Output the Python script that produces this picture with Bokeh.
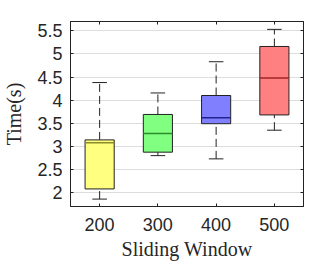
from bokeh.plotting import figure
from bokeh.models import Range1d, FixedTicker, LinearAxis
from bokeh.embed import file_html
from bokeh.resources import INLINE

categories = ["200", "300", "400", "500"]
whisker_low = [1.86, 2.80, 2.73, 3.35]
q1 = [2.08, 2.875, 3.49, 3.68]
median = [3.08, 3.28, 3.62, 4.48]
q3 = [3.14, 3.69, 4.10, 5.16]
whisker_high = [4.38, 4.155, 4.83, 5.53]
fill_colors = ["#ffff80", "#80ff80", "#8080ff", "#ff8080"]
median_colors = ["#8c8c2a", "#2a8c2a", "#22228c", "#a02424"]
y_ticks = [2, 2.5, 3, 3.5, 4, 4.5, 5, 5.5]

xs = list(range(1, len(categories) + 1))

p = figure(width=330, height=265, output_backend="svg", toolbar_location=None,
           x_range=Range1d(0.5, 4.5), y_range=Range1d(1.7, 5.7),
           min_border_left=62, min_border_right=27, min_border_top=21, min_border_bottom=59)

bw = 0.5
cw = 0.25
p.segment(x0=xs, y0=q3, x1=xs, y1=whisker_high, line_color="#222222", line_width=1, line_dash="8 4")
p.segment(x0=xs, y0=whisker_low, x1=xs, y1=q1, line_color="#222222", line_width=1, line_dash="8 4")
p.segment(x0=[x - cw / 2 for x in xs], y0=whisker_high, x1=[x + cw / 2 for x in xs], y1=whisker_high,
          line_color="#222222", line_width=1)
p.segment(x0=[x - cw / 2 for x in xs], y0=whisker_low, x1=[x + cw / 2 for x in xs], y1=whisker_low,
          line_color="#222222", line_width=1)
p.vbar(x=xs, width=bw, top=q3, bottom=q1, fill_color=fill_colors, fill_alpha=1.0,
       line_color="#222222", line_width=1)
p.segment(x0=[x - bw / 2 for x in xs], y0=median, x1=[x + bw / 2 for x in xs], y1=median,
          line_color=median_colors, line_width=1.5)

p.xgrid.visible = False
p.ygrid.ticker = FixedTicker(ticks=y_ticks)
p.ygrid.grid_line_color = "#dddddd"
p.ygrid.grid_line_width = 1

p.outline_line_color = "#222222"
p.outline_line_width = 1

tick_font = "Liberation Sans"
for ax in [p.xaxis[0], p.yaxis[0]]:
    ax.major_tick_in = 3
    ax.major_tick_out = 0
    ax.minor_tick_line_color = None
    ax.axis_line_color = "#222222"
    ax.major_tick_line_color = "#222222"
    ax.major_label_text_font = tick_font
    ax.major_label_text_font_size = "18px"
    ax.major_label_text_color = "#262626"
    ax.axis_label_text_font = "Liberation Serif"
    ax.axis_label_text_font_style = "normal"
    ax.axis_label_text_font_size = "20px"
    ax.axis_label_text_color = "#262626"

p.xaxis[0].ticker = FixedTicker(ticks=xs)
p.xaxis[0].major_label_overrides = {x: c for x, c in zip(xs, categories)}
p.xaxis[0].axis_label = "Sliding Window"
p.xaxis[0].major_label_standoff = 11
p.xaxis[0].axis_label_standoff = 4

p.yaxis[0].ticker = FixedTicker(ticks=y_ticks)
p.yaxis[0].major_label_overrides = {t: ("%g" % t) for t in y_ticks}
p.yaxis[0].axis_label = "Time(s)"
p.yaxis[0].major_label_standoff = 8
p.yaxis[0].axis_label_standoff = 9

ra = LinearAxis(ticker=FixedTicker(ticks=y_ticks), major_label_text_font_size="0px",
                major_tick_in=3, major_tick_out=0, minor_tick_line_color=None,
                axis_line_color="#222222", major_tick_line_color="#222222")
ra.major_label_text_color = None
p.add_layout(ra, "right")
ta = LinearAxis(ticker=FixedTicker(ticks=xs), major_label_text_font_size="0px",
                major_tick_in=3, major_tick_out=0, minor_tick_line_color=None,
                axis_line_color="#222222", major_tick_line_color="#222222")
ta.major_label_text_color = None
p.add_layout(ta, "above")

open("out.html", "w").write(file_html(p, INLINE))
